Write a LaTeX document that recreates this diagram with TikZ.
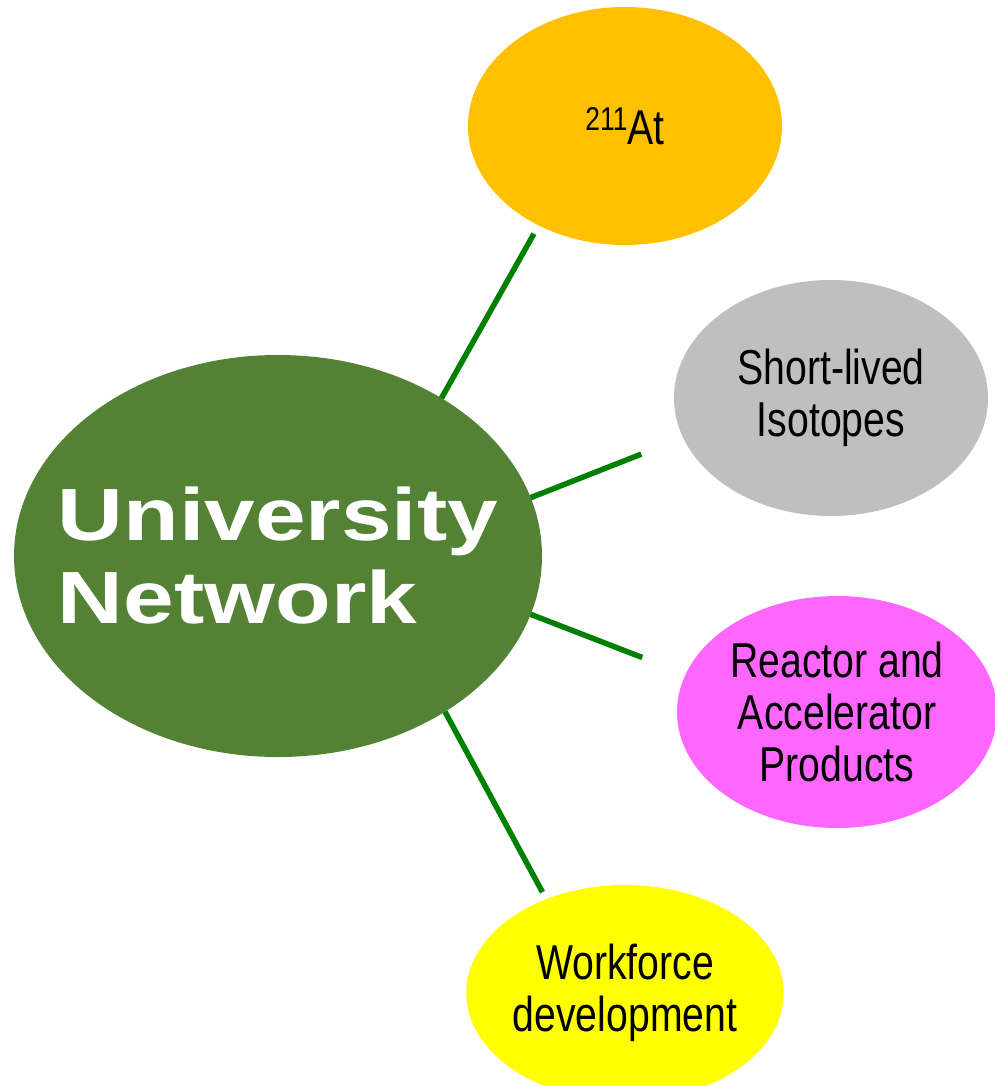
\documentclass[tikz,border=0pt]{standalone}
\usetikzlibrary{shapes.geometric}
\usepackage{fontspec}
\setmainfont{Liberation Sans}
\newfontfamily\narrowsans[FakeStretch=0.8]{Liberation Sans}
\newfontfamily\hubsans[FakeStretch=1.23]{Liberation Sans}
\definecolor{hubgreen}{HTML}{548235}
\definecolor{atorange}{HTML}{FFC000}
\definecolor{isogray}{HTML}{BFBFBF}
\definecolor{rapink}{HTML}{FF66FF}
\definecolor{wfyellow}{HTML}{FFFF00}
\definecolor{spokegreen}{HTML}{008000}

\begin{document}
\begin{tikzpicture}[
  x=1pt, y=-1pt,
  blob/.style={ellipse, draw=none, inner sep=0pt, outer sep=0pt, align=center,
    font=\narrowsans\fontsize{49}{52}\selectfont},
  hub-text/.style={align=left, text=white, inner sep=0pt,
    font=\hubsans\bfseries\fontsize{74}{83}\selectfont},
  spoke/.style={draw=spokegreen, line width=5.5pt},
  ]
  \useasboundingbox (0,0) rectangle (995,1086);

  \node [blob, fill=hubgreen, minimum width=528pt, minimum height=402pt] (hub-ellipse) at (278,556) {};
  \node [hub-text] (hub-text-node) at (hub-ellipse) {University\\Network};

  \node [blob, fill=atorange, minimum width=314pt, minimum height=238pt] (at-ellipse) at (625,126)
    {\raisebox{14pt}{\fontsize{33}{33}\selectfont 211}At};
  \node [blob, fill=isogray, minimum width=314pt, minimum height=236pt] (iso-ellipse) at (831,398)
    {Short-lived\\Isotopes};
  \node [blob, fill=rapink, minimum width=320pt, minimum height=232pt] (rap-ellipse) at (837,712)
    {Reactor and\\Accelerator\\Products};
  \node [blob, fill=wfyellow, minimum width=314pt, minimum height=216pt] (wf-ellipse) at (625,993)
    {Workforce\\development};

  \draw [spoke, shorten >=9.5pt] (hub-ellipse.44) -- (at-ellipse.-131.5);
  \draw [spoke, shorten >=45pt] (hub-ellipse.13) -- (iso-ellipse.-165.6);
  \draw [spoke, shorten >=46.6pt] (hub-ellipse.-13) -- (rap-ellipse.166.3);
  \draw [spoke, shorten >=8pt] (hub-ellipse.-43) -- (wf-ellipse.130.2);

\end{tikzpicture}
\end{document}
